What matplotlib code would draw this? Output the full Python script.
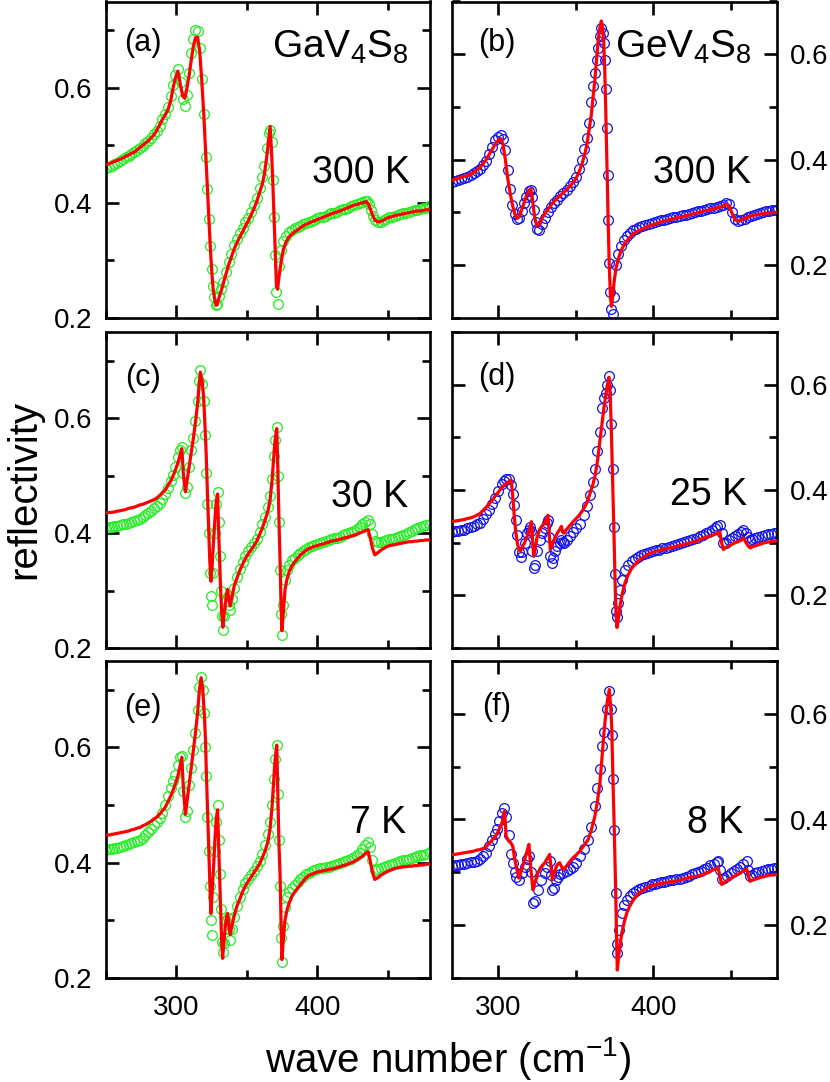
import numpy as np
import matplotlib
matplotlib.use("Agg")
import matplotlib.pyplot as plt
from matplotlib.ticker import MultipleLocator

plt.rcParams['font.family'] = ['Liberation Sans', 'DejaVu Sans']
plt.rcParams['mathtext.fontset'] = 'custom'
plt.rcParams['mathtext.rm'] = 'Liberation Sans'
plt.rcParams['mathtext.default'] = 'regular'

# ---- (a) GaV4S8, 300 K ----
x_a = [250, 252, 254, 256, 258, 260, 262, 264, 266, 268, 270, 272, 274, 276, 278, 280, 282, 284, 286, 288,
       290, 292, 294, 296, 297.5, 299, 301, 303, 304.5, 306, 307.5, 309, 310.5, 312, 313.5, 315, 316.5, 318, 319.5, 321,
       322, 323, 324, 325, 326, 327, 328, 329, 330, 331.5, 333, 335, 337, 339, 341, 343, 345, 347, 349, 351,
       353, 355, 357, 359, 361, 362.5, 364, 365.5, 366.5, 367.5, 368.5, 369.5, 370.3, 371, 371.8, 373, 374.5, 376, 378, 380,
       382, 384, 386, 388, 390, 392, 394, 396, 398, 400, 402, 404, 406, 408, 410, 412, 414, 416, 418, 420,
       422, 424, 426, 428, 430, 432, 434, 435, 436.5, 438, 439.5, 441, 443, 445, 447, 449, 451, 453, 455, 457,
       459, 461, 463, 465, 467, 469, 471, 473, 475, 477, 479, 480]
refl_a = [.460, .462, .465, .467, .470, .473, .476, .479, .482, .485, .488, .492, .495, .499, .504, .508, .513, .519, .525, .534,
          .545, .555, .567, .585, .605, .622, .633, .610, .580, .568, .588, .625, .660, .685, .700, .698, .670, .615, .555, .480,
          .425, .372, .325, .285, .255, .236, .222, .225, .238, .250, .262, .280, .297, .312, .326, .337, .347, .356, .366, .374,
          .385, .396, .409, .426, .445, .465, .495, .522, .526, .505, .440, .375, .310, .245, .225, .290, .318, .333, .342, .349,
          .353, .356, .358, .360, .363, .365, .367, .369, .371, .373, .375, .376, .378, .380, .382, .383, .385, .387, .389, .390,
          .392, .394, .396, .398, .400, .401, .403, .404, .398, .388, .378, .371, .366, .367, .370, .372, .375, .376, .378, .379,
          .380, .382, .383, .384, .386, .387, .388, .390, .391, .392, .394, .395]
fit_a = [.467, .468, .470, .472, .474, .476, .478, .481, .483, .486, .488, .492, .496, .500, .504, .508, .513, .518, .526, .535,
         .545, .553, .562, .578, .598, .615, .629, .603, .585, .582, .600, .622, .648, .672, .687, .688, .664, .612, .550, .474,
         .420, .372, .325, .283, .252, .234, .222, .223, .234, .245, .258, .276, .292, .306, .320, .331, .341, .350, .360, .369,
         .379, .390, .402, .418, .433, .451, .478, .510, .533, .490, .430, .360, .300, .255, .250, .275, .300, .320, .333, .341,
         .346, .350, .353, .357, .360, .363, .365, .367, .369, .371, .373, .375, .377, .379, .381, .383, .384, .386, .388, .390,
         .392, .394, .396, .397, .399, .400, .402, .402, .397, .387, .377, .370, .367, .368, .370, .373, .375, .376, .378, .379,
         .380, .381, .382, .383, .384, .385, .386, .386, .387, .388, .388, .388]

# ---- (b) GeV4S8, 300 K ----
x_b = [270, 272, 274, 276, 278, 280, 282, 284, 286, 288, 290, 292, 294, 296, 298, 300, 301.7, 303, 304.5, 306,
       307.5, 309, 310.5, 312, 313.5, 315, 316.5, 318, 319.5, 321, 322, 323, 324, 325, 326.5, 328, 330, 332, 334, 336,
       338, 340, 342, 344, 346, 348, 350, 352, 354, 355.5, 357, 358.5, 360, 361.2, 362.3, 363.4, 364.5, 365.5, 366.5, 367.3,
       368, 368.7, 369.3, 369.9, 370.5, 371, 371.6, 372.3, 373, 373.8, 374.8, 376, 377.5, 379, 381, 383, 385, 387, 389, 391,
       393, 395, 397, 399, 401, 403, 405, 407, 409, 411, 413, 415, 417, 419, 421, 423, 425, 427, 429, 431,
       433, 435, 437, 439, 441, 443, 445, 447, 449, 451, 453, 455, 457, 459, 461, 463, 465, 467, 469, 471,
       473, 475, 477, 479, 480]
refl_b = [.357, .359, .361, .364, .366, .368, .371, .374, .378, .383, .390, .398, .410, .425, .437, .444, .446, .440, .418, .380,
          .345, .315, .298, .288, .290, .303, .318, .330, .340, .343, .330, .305, .282, .268, .266, .278, .290, .300, .310, .318,
          .324, .331, .337, .343, .350, .357, .367, .382, .400, .420, .441, .470, .510, .540, .565, .590, .612, .635, .649, .640,
          .622, .590, .535, .460, .372, .285, .205, .150, .118, .107, .140, .200, .222, .236, .248, .256, .262, .266, .269, .272,
          .274, .276, .278, .280, .282, .283, .285, .286, .288, .289, .291, .292, .293, .295, .296, .298, .299, .300, .302, .303,
          .305, .306, .308, .309, .311, .313, .315, .318, .316, .300, .287, .284, .286, .288, .291, .293, .295, .297, .299, .300,
          .302, .303, .304, .305, .305]
fit_b = [.361, .363, .365, .367, .369, .370, .373, .376, .381, .385, .392, .400, .410, .420, .430, .437, .440, .428, .400, .365,
         .338, .315, .298, .289, .292, .305, .318, .331, .341, .345, .325, .300, .283, .275, .278, .288, .298, .306, .314, .321,
         .327, .332, .338, .343, .349, .356, .364, .376, .392, .408, .426, .455, .485, .520, .551, .590, .627, .650, .663, .650,
         .625, .570, .500, .420, .340, .270, .200, .145, .122, .140, .170, .195, .212, .226, .238, .246, .253, .259, .263, .266,
         .269, .271, .274, .276, .278, .280, .282, .284, .285, .287, .288, .290, .291, .292, .294, .295, .297, .298, .300, .301,
         .303, .304, .306, .307, .309, .310, .312, .315, .313, .298, .286, .284, .286, .289, .291, .293, .295, .296, .297, .298,
         .299, .299, .300, .300, .300]

# ---- (c) GaV4S8, 30 K ----
x_c = [250, 252, 254, 256, 258, 260, 262, 264, 266, 268, 270, 272, 274, 276, 278, 280, 282, 284, 286, 288,
       290, 292, 294, 296, 297.5, 299, 301, 302.5, 303.8, 305, 306.4, 307.5, 309, 310.5, 312, 313.5, 315, 316, 317, 318.2,
       319.3, 320.3, 321.2, 322, 322.9, 323.7, 324.5, 325.3, 326.2, 327.2, 328.2, 329.2, 330, 330.7, 331.4, 332.1, 333, 334, 335.4, 336.3,
       337.2, 338.2, 339.5, 341, 343, 345, 347, 349, 351, 353, 355, 357, 359, 361, 363, 365, 366.5, 367.8, 369, 370,
       371.2, 372, 372.8, 373.6, 374.3, 374.9, 376, 377.1, 378.5, 380, 382, 384, 386, 388, 390, 392, 394, 396, 398, 400,
       402, 404, 406, 408, 410, 412, 414, 416, 418, 420, 422, 424, 426, 428, 430, 432, 434, 436, 437.5, 439,
       440.8, 443, 445, 447, 449, 451, 453, 455, 457, 459, 461, 463, 465, 467, 469, 471, 473, 475, 477, 480]
refl_c = [.409, .410, .411, .412, .413, .414, .415, .416, .418, .419, .421, .423, .425, .428, .432, .435, .439, .443, .447, .452,
          .459, .468, .479, .491, .501, .515, .533, .544, .550, .505, .469, .480, .515, .545, .565, .595, .630, .665, .683, .660,
          .630, .570, .505, .450, .400, .330, .290, .275, .330, .400, .450, .472, .420, .360, .300, .255, .232, .255, .282, .290,
          .275, .267, .285, .305, .323, .337, .350, .360, .368, .375, .382, .390, .402, .415, .428, .445, .465, .495, .535, .562,
          .585, .500, .420, .335, .260, .222, .275, .318, .335, .345, .353, .357, .361, .366, .369, .373, .375, .377, .379, .381,
          .383, .384, .386, .388, .389, .391, .392, .394, .396, .398, .400, .402, .404, .407, .411, .415, .420, .423, .415, .398,
          .386, .384, .385, .387, .388, .389, .390, .392, .393, .395, .397, .399, .402, .404, .407, .409, .411, .413, .414, .415]
fit_c = [.435, .436, .436, .437, .438, .439, .440, .441, .443, .444, .445, .447, .449, .450, .452, .454, .456, .458, .461, .465,
         .470, .475, .483, .491, .499, .508, .522, .535, .547, .500, .472, .490, .515, .540, .565, .593, .625, .655, .680, .665,
         .637, .585, .533, .470, .406, .350, .316, .340, .380, .420, .455, .468, .400, .348, .300, .262, .236, .262, .290, .302,
         .285, .273, .290, .308, .322, .335, .346, .356, .364, .371, .378, .386, .397, .409, .423, .439, .458, .490, .530, .562,
         .582, .510, .420, .348, .270, .230, .265, .302, .320, .333, .343, .350, .356, .362, .366, .370, .373, .375, .377, .378,
         .380, .381, .383, .384, .386, .387, .388, .389, .391, .392, .393, .395, .396, .398, .400, .402, .404, .406, .393, .375,
         .362, .366, .370, .373, .376, .378, .379, .380, .381, .382, .383, .384, .385, .385, .386, .386, .387, .387, .388, .388]

# ---- (d) GeV4S8, 25 K ----
x_d = [270, 272, 274, 276, 278, 280, 282, 284, 286, 288, 290, 292, 294, 296, 298, 300, 302, 303.5, 305, 306.8,
       308.2, 309.2, 310.2, 311.2, 312.3, 313.3, 314.3, 315.5, 316.9, 318.2, 319.5, 320.5, 321.3, 322, 322.8, 323.8, 325, 326.6, 328.3, 330,
       331.2, 332, 332.8, 333.5, 334.4, 335.5, 336.6, 338, 339.6, 340.7, 341.5, 342.3, 344, 346, 348, 350, 352.5, 355, 357, 359,
       361, 362.5, 364, 365.5, 367, 368.2, 369.2, 370.3, 371.4, 372.3, 373, 373.8, 374.7, 375.5, 376, 376.6, 377.5, 378.6, 380, 381.8,
       384, 386, 388, 390, 392, 394, 396, 398, 400, 402, 404, 406, 408, 410, 412, 414, 416, 418, 420, 422,
       424, 426, 428, 430, 432, 434, 436, 438, 440, 441.5, 443, 444.2, 445.4, 447, 449, 451, 453, 455, 457, 458.3,
       460, 461.3, 462.6, 464, 466, 468, 470, 472, 474, 476, 478, 480]
refl_d = [.321, .322, .323, .324, .325, .327, .329, .331, .335, .338, .345, .355, .362, .373, .385, .398, .412, .418, .421, .420,
          .410, .392, .372, .343, .315, .283, .272, .282, .300, .318, .325, .330, .322, .285, .252, .258, .285, .306, .318, .328,
          .338, .343, .310, .275, .262, .270, .285, .293, .299, .305, .302, .300, .306, .313, .320, .327, .336, .352, .369, .390,
          .415, .440, .475, .510, .555, .575, .585, .600, .617, .590, .525, .440, .330, .240, .170, .158, .185, .211, .230, .249,
          .258, .265, .269, .273, .276, .278, .280, .282, .284, .286, .287, .289, .290, .292, .293, .295, .297, .299, .301, .303,
          .305, .307, .309, .312, .315, .318, .321, .325, .328, .331, .334, .318, .299, .300, .305, .309, .313, .317, .321, .324,
          .318, .310, .306, .307, .309, .311, .313, .315, .316, .317, .318, .318]
fit_d = [.340, .341, .342, .343, .344, .346, .347, .349, .352, .355, .361, .367, .374, .381, .389, .396, .404, .408, .412, .416,
         .419, .390, .352, .320, .298, .287, .284, .292, .300, .310, .318, .330, .340, .305, .274, .290, .310, .325, .332, .338,
         .346, .352, .318, .287, .292, .302, .310, .318, .325, .331, .320, .318, .325, .332, .339, .345, .353, .364, .375, .392,
         .410, .428, .455, .492, .530, .557, .577, .598, .614, .575, .510, .419, .312, .211, .165, .139, .155, .180, .203, .224,
         .240, .251, .258, .264, .269, .273, .277, .280, .282, .284, .285, .287, .288, .290, .291, .292, .294, .295, .297, .298,
         .300, .301, .303, .306, .308, .310, .312, .314, .316, .318, .321, .300, .287, .291, .294, .297, .300, .302, .305, .309,
         .300, .294, .290, .292, .294, .296, .298, .300, .301, .302, .303, .304]

# ---- (e) GaV4S8, 7 K ----
x_e = [250, 252, 254, 256, 258, 260, 262, 264, 266, 268, 270, 272, 274, 276, 278, 280, 282, 284, 286, 288,
       290, 292, 294, 296, 297.5, 299, 301, 302.5, 303.8, 305, 306.4, 307.5, 309, 310.5, 312, 313.5, 315, 316.3, 317.5, 318.7,
       319.8, 320.6, 321.2, 322, 322.9, 323.7, 324.5, 325.3, 326.2, 327.2, 328.2, 329.2, 330, 330.7, 331.4, 332.1, 332.8, 333.8, 334.7, 335.5,
       336.3, 337.2, 338.2, 339.5, 341, 343, 345, 347, 349, 351, 353, 355, 357, 359, 361, 363, 365, 366.5, 367.8, 369,
       370, 371.2, 372, 372.8, 373.6, 374.3, 374.9, 376, 377.1, 378.5, 380, 382, 384, 386, 388, 390, 392, 394, 396, 398,
       400, 402, 404, 406, 408, 410, 412, 414, 416, 418, 420, 422, 424, 426, 428, 430, 432, 434, 436, 437.5,
       439, 440.8, 443, 445, 447, 449, 451, 453, 455, 457, 459, 461, 463, 465, 467, 469, 471, 473, 475, 477, 480]
refl_e = [.422, .423, .424, .425, .426, .428, .429, .430, .432, .434, .436, .438, .439, .443, .448, .454, .459, .465, .470, .477,
          .487, .500, .515, .530, .541, .553, .570, .583, .586, .525, .480, .490, .535, .565, .595, .625, .665, .705, .723, .700,
          .660, .600, .550, .480, .420, .360, .300, .275, .340, .420, .470, .500, .440, .380, .320, .262, .245, .260, .285, .300,
          .304, .285, .266, .285, .305, .325, .340, .354, .364, .372, .379, .386, .394, .403, .415, .430, .450, .470, .500, .545,
          .580, .604, .520, .440, .360, .270, .228, .290, .324, .340, .350, .357, .361, .366, .371, .376, .380, .383, .385, .387,
          .389, .390, .391, .392, .393, .395, .396, .397, .399, .401, .403, .405, .407, .410, .413, .417, .423, .430, .436, .428,
          .405, .387, .389, .391, .393, .394, .396, .398, .400, .401, .403, .404, .405, .407, .408, .410, .411, .413, .414, .416, .418]
fit_e = [.448, .448, .449, .450, .451, .452, .453, .454, .455, .457, .458, .460, .461, .464, .466, .469, .472, .476, .479, .484,
         .490, .496, .506, .516, .525, .535, .550, .567, .583, .525, .484, .505, .535, .565, .595, .625, .660, .700, .721, .700,
         .658, .615, .560, .495, .428, .365, .312, .345, .385, .435, .475, .492, .430, .376, .320, .262, .234, .265, .289, .305,
         .312, .292, .275, .292, .308, .325, .337, .350, .360, .368, .375, .383, .390, .398, .409, .421, .437, .460, .495, .540,
         .578, .604, .520, .430, .376, .290, .232, .270, .301, .318, .330, .342, .349, .356, .362, .368, .374, .378, .380, .382,
         .384, .385, .386, .387, .388, .389, .390, .392, .393, .395, .396, .398, .400, .402, .405, .408, .411, .416, .419, .404,
         .385, .371, .374, .378, .381, .384, .386, .388, .390, .391, .392, .393, .393, .394, .394, .395, .395, .396, .396, .397, .398]

# ---- (f) GeV4S8, 8 K ----
x_f = [270, 272, 274, 276, 278, 280, 282, 284, 286, 288, 290, 292, 294, 296, 297.5, 299, 300.5, 302.4, 303.9, 305,
       306.7, 308, 309.3, 310.5, 311.5, 313.2, 315, 316.9, 318.5, 319.7, 321, 322.3, 323.5, 325.5, 327.5, 329.9, 331.5, 333.1, 334, 334.8,
       336, 337.4, 338.5, 339.6, 341.8, 344, 346, 348, 350, 352.6, 355, 358, 360, 362.3, 364, 365.6, 367, 368.2, 369.9, 371.6,
       372.5, 373.2, 374, 374.9, 375.8, 376.3, 376.8, 378, 379.7, 381.3, 382.9, 385, 387, 389, 391, 393, 395, 397, 399, 401,
       403, 405, 407, 409, 411, 413, 415, 417, 419, 421, 423, 425, 427, 429, 431, 433, 435, 437, 439, 441,
       442, 443.2, 444.3, 446, 448, 450, 452, 454, 456, 458, 460.5, 461.5, 462.6, 464, 466, 468, 470, 472, 474, 476,
       478, 480]
refl_f = [.312, .313, .314, .315, .316, .318, .319, .320, .322, .325, .330, .337, .350, .362, .372, .382, .398, .413, .422, .405,
          .370, .335, .318, .300, .292, .286, .298, .311, .325, .330, .300, .242, .245, .267, .285, .299, .310, .321, .295, .267,
          .270, .285, .292, .296, .299, .302, .306, .311, .318, .330, .345, .362, .385, .425, .460, .495, .540, .565, .610, .644,
          .610, .560, .476, .380, .260, .165, .147, .190, .223, .238, .248, .256, .261, .265, .268, .270, .272, .275, .277, .278,
          .280, .281, .282, .283, .285, .286, .287, .288, .290, .292, .294, .296, .298, .300, .303, .306, .309, .313, .316, .319,
          .321, .305, .287, .290, .294, .298, .302, .306, .310, .315, .321, .305, .293, .295, .298, .300, .302, .304, .306, .307,
          .308, .309]
fit_f = [.334, .334, .335, .336, .337, .338, .339, .340, .342, .343, .345, .348, .355, .361, .366, .372, .382, .394, .416, .368,
         .359, .356, .349, .325, .311, .289, .305, .324, .340, .353, .305, .267, .280, .299, .310, .318, .326, .334, .310, .286,
         .298, .311, .316, .318, .305, .312, .320, .327, .332, .340, .350, .362, .380, .406, .435, .470, .520, .565, .615, .646,
         .615, .577, .476, .375, .261, .180, .115, .150, .185, .206, .223, .237, .247, .255, .261, .265, .269, .272, .275, .276,
         .278, .279, .280, .281, .282, .283, .284, .285, .287, .288, .290, .291, .292, .293, .295, .297, .299, .302, .305, .307,
         .309, .292, .277, .281, .285, .288, .292, .295, .298, .302, .306, .294, .283, .285, .287, .289, .291, .292, .294, .295,
         .295, .296]

panel_tags = ["(a)", "(b)", "(c)", "(d)", "(e)", "(f)"]
temps = ["300 K", "300 K", "30 K", "25 K", "7 K", "8 K"]
compounds = ["GaV$_4$S$_8$", "GeV$_4$S$_8$"]

xs = [x_a, x_b, x_c, x_d, x_e, x_f]
ys = [refl_a, refl_b, refl_c, refl_d, refl_e, refl_f]
fits = [fit_a, fit_b, fit_c, fit_d, fit_e, fit_f]
for k in range(6):
    assert len(xs[k]) == len(ys[k]) == len(fits[k]), (k, len(xs[k]), len(ys[k]), len(fits[k]))

W, H = 830, 1082
fig = plt.figure(figsize=(W / 100, H / 100), dpi=100)

def rect(x0, x1, top, bot):
    return [x0 / W, 1 - bot / H, (x1 - x0) / W, (bot - top) / H]

rows = [(1.5, 318), (332, 648), (661, 978)]
cols = [(106, 430), (452, 777)]

# text positions in axes fraction (tag centre, temp right/baseline)
tag_pos = [(0.114, 0.868), (0.138, 0.870), (0.114, 0.855), (0.138, 0.858), (0.114, 0.853), (0.138, 0.855)]
temp_pos = [(0.938, 0.427), (0.919, 0.427), (0.931, 0.446), (0.908, 0.453), (0.925, 0.458), (0.895, 0.458)]

for i in range(6):
    r, c = divmod(i, 2)
    ax = fig.add_axes(rect(cols[c][0], cols[c][1], rows[r][0], rows[r][1]))
    col = '#22ee22' if c == 0 else '#1111ee'
    ax.plot(xs[i], ys[i], 'o', mfc='none', mec=col, ms=7, mew=0.9, zorder=2)
    ax.plot(xs[i], fits[i], '-', color='#ff0000', lw=2.3, zorder=3)

    if c == 0:
        ax.set_xlim(250, 480)
        ax.set_ylim(0.2, 0.75)
    else:
        ax.set_xlim(270, 480)
        ax.set_ylim(0.1, 0.7)
    ax.xaxis.set_major_locator(MultipleLocator(100))
    ax.xaxis.set_minor_locator(MultipleLocator(50))
    ax.yaxis.set_major_locator(MultipleLocator(0.2))
    ax.yaxis.set_minor_locator(MultipleLocator(0.1))
    ax.yaxis.set_major_formatter(plt.FuncFormatter(lambda v, p: f"{v:.1f}"))

    ax.tick_params(which='both', direction='in', top=True, right=True, left=True, bottom=True, width=1.9)
    ax.tick_params(which='major', length=9.5, labelsize=20)
    ax.tick_params(which='minor', length=6)
    ax.tick_params(axis='x', pad=12, labelbottom=(r == 2))
    if c == 0:
        ax.tick_params(axis='y', pad=10, labelleft=True, labelright=False)
    else:
        ax.tick_params(axis='y', pad=9, labelleft=False, labelright=True)
    for s in ax.spines.values():
        s.set_linewidth(1.9)

    ax.text(tag_pos[i][0], tag_pos[i][1], panel_tags[i], transform=ax.transAxes,
            ha='center', va='center', fontsize=22)
    ax.text(temp_pos[i][0], temp_pos[i][1], temps[i], transform=ax.transAxes,
            ha='right', va='baseline', fontsize=27)
    if r == 0:
        ax.text(0.935 if c == 0 else 0.923, 0.821, compounds[c], transform=ax.transAxes,
                ha='right', va='baseline', fontsize=28)

fig.text(24 / W, 1 - 489 / H, "reflectivity", rotation=90, ha='center', va='center', fontsize=29)
fig.text(448 / W, 1 - 1072 / H, "wave number (cm$^{-1}$)", ha='center', va='baseline', fontsize=29)

fig.savefig("out.png", dpi=100)
